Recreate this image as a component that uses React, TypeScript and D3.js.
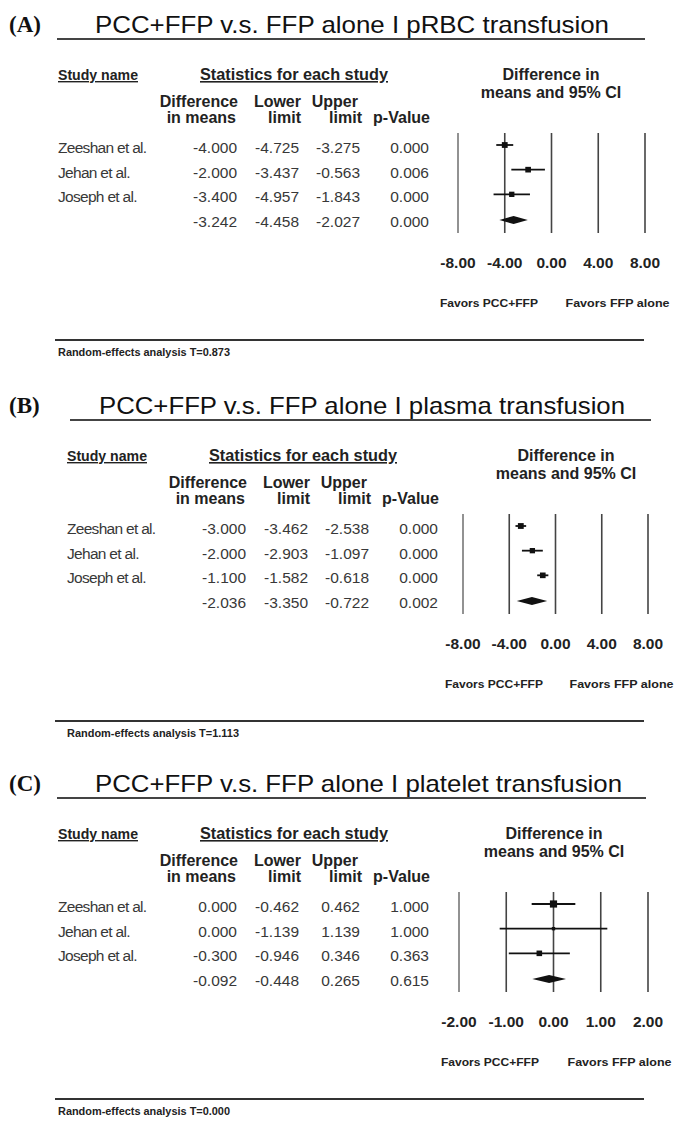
import React from 'react';
import * as d3 from 'd3';

const studies = ['Zeeshan et al.', 'Jehan et al.', 'Joseph et al.'];
const panelLabels = ['(A)', '(B)', '(C)'];
const titles = [
  'PCC+FFP v.s. FFP alone I pRBC transfusion',
  'PCC+FFP v.s. FFP alone I plasma transfusion',
  'PCC+FFP v.s. FFP alone I platelet transfusion',
];

// last entry of each array = pooled (random-effects) estimate
const diffA = [-4.0, -2.0, -3.4, -3.242];
const lowerA = [-4.725, -3.437, -4.957, -4.458];
const upperA = [-3.275, -0.563, -1.843, -2.027];
const pA = [0.0, 0.006, 0.0, 0.0];
const weightA = [36, 34, 30];

const diffB = [-3.0, -2.0, -1.1, -2.036];
const lowerB = [-3.462, -2.903, -1.582, -3.35];
const upperB = [-2.538, -1.097, -0.618, -0.722];
const pB = [0.0, 0.0, 0.0, 0.002];
const weightB = [36, 30, 34];

const diffC = [0.0, 0.0, -0.3, -0.092];
const lowerC = [-0.462, -1.139, -0.946, -0.448];
const upperC = [0.462, 1.139, 0.346, 0.265];
const pC = [1.0, 1.0, 0.363, 0.615];
const weightC = [55, 12, 33];

const tauValues = ['0.873', '1.113', '0.000'];
const ticksAB = [-8, -4, 0, 4, 8];
const ticksC = [-2, -1, 0, 1, 2];

const panels = [
  { diff: diffA, lower: lowerA, upper: upperA, p: pA, w: weightA, ticks: ticksAB },
  { diff: diffB, lower: lowerB, upper: upperB, p: pB, w: weightB, ticks: ticksAB },
  { diff: diffC, lower: lowerC, upper: upperC, p: pC, w: weightC, ticks: ticksC },
];

const W = 684;
const H = 1126;
const panelTop = [0, 381, 759];
const tableShift = [0, 9, 0];
const plotRange = [[458, 645], [463, 648], [459, 648]];
const ciHeadX = [551, 566, 554];
const titleX = [[95, 609], [99, 625], [95, 622]];
const ruleX = [[57, 645], [70, 651], [57, 646]];

const SANS = 'Liberation Sans, Arial, sans-serif';

const Panel = ({ i }: { i: number }) => {
  const d = panels[i];
  const top = panelTop[i];
  const tx = tableShift[i];
  const x = d3.scaleLinear()
    .domain(d3.extent(d.ticks) as [number, number])
    .range(plotRange[i]);
  const y = d3.scalePoint<number>()
    .domain(d3.range(4))
    .range([148, 222]);
  const size = d3.scaleSqrt().domain([0, 60]).range([0, 7.5]);
  const cols = [d.diff, d.lower, d.upper, d.p];
  const colRight = [237, 299, 360, 429];
  const hx = ciHeadX[i];

  return (
    <g transform={`translate(0,${top})`}>
      <text x={9} y={32} fontFamily="Liberation Serif, Times New Roman, serif" fontWeight="bold" fontSize={23} fill="#111">
        {panelLabels[i]}
      </text>
      <text x={titleX[i][0]} y={33} fontFamily={SANS} fontSize={24} fill="#111"
        textLength={titleX[i][1] - titleX[i][0]} lengthAdjust="spacingAndGlyphs">
        {titles[i]}
      </text>
      <line x1={ruleX[i][0]} x2={ruleX[i][1]} y1={39} y2={39} stroke="#444" strokeWidth={2} />

      {/* table headers */}
      <g fontFamily={SANS} fontWeight="bold" fill="#222">
        <text x={58 + tx} y={80} fontSize={14} textDecoration="underline" textLength={80} lengthAdjust="spacingAndGlyphs">Study name</text>
        <text x={200 + tx} y={80} fontSize={16} textDecoration="underline" textLength={188} lengthAdjust="spacingAndGlyphs">Statistics for each study</text>
        <text x={hx} y={80} fontSize={16} textAnchor="middle">Difference in</text>
        <text x={hx} y={98} fontSize={16} textAnchor="middle">means and 95% CI</text>
        <text x={238 + tx} y={107} fontSize={16} textAnchor="end">Difference</text>
        <text x={236 + tx} y={123} fontSize={16} textAnchor="end">in means</text>
        <text x={301 + tx} y={107} fontSize={16} textAnchor="end">Lower</text>
        <text x={301 + tx} y={123} fontSize={16} textAnchor="end">limit</text>
        <text x={358 + tx} y={107} fontSize={16} textAnchor="end">Upper</text>
        <text x={362 + tx} y={123} fontSize={16} textAnchor="end">limit</text>
        <text x={430 + tx} y={123} fontSize={16} textAnchor="end">p-Value</text>
      </g>

      {/* table rows */}
      <g fontFamily={SANS} fontSize={15.5} fill="#383838">
        {studies.map((s, r) => (
          <text key={s} x={58 + tx} y={y(r)! + 5} letterSpacing={-0.7}>{s}</text>
        ))}
        {d3.range(4).map(r =>
          cols.map((c, k) => (
            <text key={`${r}-${k}`} x={colRight[k] + tx} y={y(r)! + 5} textAnchor="end">
              {c[r].toFixed(3)}
            </text>
          ))
        )}
      </g>

      {/* forest plot */}
      <g>
        {d.ticks.map((t, k) => (
          <line key={t} x1={x(t)} x2={x(t)} y1={133} y2={233} stroke={k === 0 ? '#777' : '#444'} strokeWidth={1.6} />
        ))}
        {studies.map((s, r) => {
          const cy = y(r)! - 3;
          const sz = size(d.w[r]);
          return (
            <g key={s}>
              <line x1={x(d.lower[r])} x2={x(d.upper[r])} y1={cy} y2={cy} stroke="#111" strokeWidth={1.8} />
              <rect x={x(d.diff[r]) - sz / 2} y={cy - sz / 2} width={sz} height={sz} fill="#111" />
            </g>
          );
        })}
        {(() => {
          const cy = y(3)! - 2;
          const pts = [
            [x(d.lower[3]), cy],
            [x(d.diff[3]), cy - 4],
            [x(d.upper[3]), cy],
            [x(d.diff[3]), cy + 4],
          ];
          return <path d={d3.line()(pts as [number, number][])! + 'Z'} fill="#111" />;
        })()}
        <g fontFamily={SANS} fontWeight="bold" fontSize={15.5} fill="#222">
          {d.ticks.map(t => (
            <text key={t} x={x(t)} y={268} textAnchor="middle">{t.toFixed(2)}</text>
          ))}
        </g>
        <g fontFamily={SANS} fontWeight="bold" fontSize={11.5} fill="#222">
          <text x={x(d.ticks[0]) - 18} y={307} textLength={98} lengthAdjust="spacingAndGlyphs">Favors PCC+FFP</text>
          <text x={x(d.ticks[2]) + 14} y={307} textLength={104} lengthAdjust="spacingAndGlyphs">Favors FFP alone</text>
        </g>
      </g>

      <line x1={55} x2={644} y1={340} y2={340} stroke="#333" strokeWidth={2} />
      <text x={58 + tx} y={356} fontFamily={SANS} fontWeight="bold" fontSize={11} fill="#222" textLength={172} lengthAdjust="spacingAndGlyphs">
        {`Random-effects analysis T=${tauValues[i]}`}
      </text>
    </g>
  );
};

export default function App() {
  return (
    <svg width={W} height={H} viewBox={`0 0 ${W} ${H}`} style={{ position: 'absolute', left: 0, top: 0, background: '#fff' }}>
      <rect width={W} height={H} fill="#fff" />
      {d3.range(3).map(i => <Panel key={i} i={i} />)}
    </svg>
  );
}
